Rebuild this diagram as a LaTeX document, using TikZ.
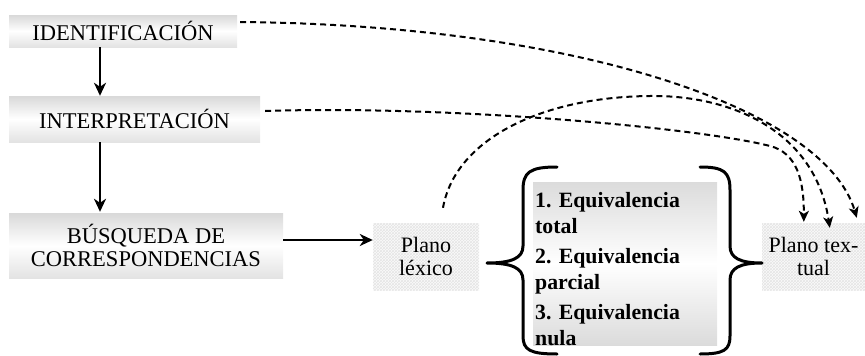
\documentclass[tikz,border=0pt]{standalone}
\usepackage{fontspec}
\setmainfont{Liberation Serif}
\usetikzlibrary{arrows.meta,patterns,calc}

\tikzset{
  stagebox/.style={draw=none, inner sep=0pt, align=center,
    top color=gray!30, bottom color=gray!22, middle color=white,
    font=\fontsize{22.5}{23}\selectfont},
  planebox/.style={inner sep=0pt, align=center,
    preaction={fill=gray!4}, pattern=crosshatch, pattern color=gray!20,
    font=\fontsize{22}{23}\selectfont},
  eqbox/.style={inner sep=0pt,
    top color=gray!28, bottom color=gray!28, middle color=white},
  flow/.style={line width=2.8pt, -{Stealth[length=13pt,width=12pt,inset=4pt]}},
  link/.style={line width=2pt, dash pattern=on 6pt off 4pt,
    -{Stealth[length=11pt,width=10pt,inset=3pt]}},
  bracepath/.style={line width=3pt, line cap=round, line join=round}
}

\begin{document}
\begin{tikzpicture}[x=1pt,y=-1pt]
  \useasboundingbox (0,0) rectangle (865,356);

  % process stages
  \node[stagebox, minimum width=228pt, minimum height=32pt] (id) at (123,31) {IDENTIFICACIÓN};
  \node[stagebox, minimum width=251pt, minimum height=46pt] (interp) at (134.5,119) {INTERPRETACIÓN};
  \node[stagebox, minimum width=274pt, minimum height=65pt] (busq) at (146,245.5) {BÚSQUEDA DE\\CORRESPONDENCIAS};

  % planes
  \node[planebox, minimum width=106pt, minimum height=67pt] (lex) at (426,256.5) {Plano\\léxico};
  \node[planebox, minimum width=103pt, minimum height=67pt] (tex) at (813.5,256.5) {Plano tex-\\tual};

  % equivalence types
  \node[eqbox, minimum width=184pt, minimum height=163pt] (eq) at (625,263.5) {};
  \node[anchor=north west, inner sep=0pt, align=left,
        font=\bfseries\fontsize{21.8}{26.5}\selectfont] (eqtext) at (535,192)
       {1. Equivalencia\\total\\[3pt]2. Equivalencia\\parcial\\[3pt]3. Equivalencia\\nula};

  % braces around the equivalence types
  \draw[bracepath] (557,167) .. controls (530,167) and (523,172) .. (523,190)
        -- (523,246) .. controls (523,258) and (512,263) .. (487,263)
        .. controls (512,263) and (523,268) .. (523,280)
        -- (523,336) .. controls (523,350) and (530,354) .. (557,354);
  \draw[bracepath] (700,167) .. controls (724,167) and (730,172) .. (730,190)
        -- (730,246) .. controls (730,258) and (740,263) .. (762,263)
        .. controls (740,263) and (730,268) .. (730,280)
        -- (730,336) .. controls (730,350) and (724,354) .. (700,354);

  % main flow
  \coordinate (vx) at (100,0);
  \coordinate (hy) at (0,240);
  \draw[flow] (vx |- id.south) -- (vx |- interp.north);
  \draw[flow] (vx |- interp.south) -- ([yshift=1pt]vx |- busq.north);
  \draw[flow] (hy -| busq.east) -- (hy -| lex.west);

  % dashed links into the textual plane
  \draw[link] ($(id.east)+(3,-9)$) .. controls (580,25) and (825,110) .. ($(tex.north west)+(95,-5)$);
  \draw[link] ($(interp.east)+(5,-8)$) .. controls (450,105) and (700,128) .. (770,146)
        .. controls (797,153) and (804,180) .. ($(tex.north west)+(42,-1)$);
  \draw[link] ($(lex.north)+(17,-15)$) .. controls (455,140) and (540,97) .. (650,96)
        .. controls (730,95) and (815,130) .. ($(tex.north west)+(68,5)$);
\end{tikzpicture}
\end{document}
